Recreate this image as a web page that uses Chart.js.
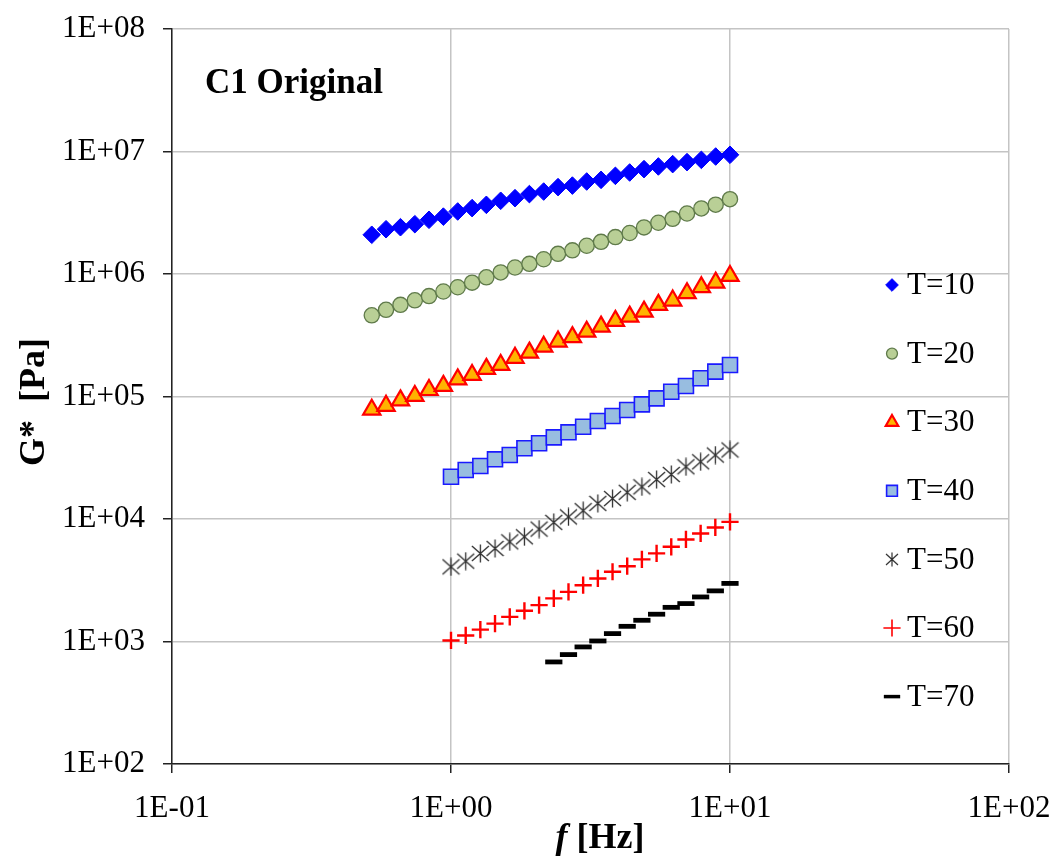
<!DOCTYPE html>
<html>
<head>
<meta charset="utf-8">
<script src="https://cdn.jsdelivr.net/npm/chart.js@4.4.1/dist/chart.umd.min.js"></script>
<style>
  html, body { margin: 0; padding: 0; background: #ffffff; }
  #wrap { width: 1053px; height: 859px; position: relative; }
</style>
</head>
<body>
<div id="wrap"><canvas id="c" width="1053" height="859"></canvas></div>
<script>
// Frequency grids [Hz]
const freqWide = [0.520, 0.585, 0.659, 0.742, 0.834, 0.939, 1.057, 1.190, 1.339, 1.507,
                  1.696, 1.910, 2.149, 2.419, 2.723, 3.065, 3.450, 3.883, 4.370, 4.918,
                  5.536, 6.231, 7.014, 7.894, 8.885, 10.00];
const freqNarrow = [1.000, 1.129, 1.274, 1.438, 1.624, 1.833, 2.069, 2.336, 2.637, 2.976,
                    3.360, 3.793, 4.281, 4.833, 5.456, 6.158, 6.952, 7.848, 8.859, 10.00];
const freqT70 = [2.336, 2.637, 2.976, 3.360, 3.793, 4.281, 4.833, 5.456, 6.158, 6.952,
                 7.848, 8.859, 10.00];

// Complex modulus G* [Pa] per test temperature
const gT10 = [2.09e6, 2.32e6, 2.41e6, 2.55e6, 2.77e6, 2.94e6, 3.24e6, 3.45e6, 3.67e6, 3.96e6,
              4.16e6, 4.49e6, 4.71e6, 5.12e6, 5.27e6, 5.69e6, 5.87e6, 6.33e6, 6.74e6, 7.18e6,
              7.55e6, 7.89e6, 8.19e6, 8.55e6, 9.10e6, 9.40e6];
const gT20 = [4.60e5, 5.10e5, 5.60e5, 6.10e5, 6.60e5, 7.20e5, 7.80e5, 8.50e5, 9.40e5, 1.03e6,
              1.13e6, 1.21e6, 1.32e6, 1.46e6, 1.56e6, 1.70e6, 1.83e6, 2.00e6, 2.16e6, 2.40e6,
              2.62e6, 2.82e6, 3.12e6, 3.43e6, 3.68e6, 4.08e6];
const gT30 = [7.80e4, 8.40e4, 9.30e4, 1.01e5, 1.13e5, 1.22e5, 1.38e5, 1.50e5, 1.68e5, 1.81e5,
              2.07e5, 2.28e5, 2.55e5, 2.81e5, 3.05e5, 3.38e5, 3.72e5, 4.14e5, 4.49e5, 4.93e5,
              5.60e5, 6.07e5, 6.97e5, 7.80e5, 8.51e5, 9.64e5];
const gT40 = [2.21e4, 2.51e4, 2.71e4, 3.07e4, 3.33e4, 3.78e4, 4.15e4, 4.64e4, 5.10e4, 5.66e4,
              6.31e4, 6.93e4, 7.76e4, 8.63e4, 9.66e4, 1.094e5, 1.219e5, 1.409e5, 1.595e5, 1.81e5];
const gT50 = [4.07e3, 4.53e3, 5.23e3, 5.75e3, 6.51e3, 7.16e3, 8.27e3, 9.38e3, 1.04e4, 1.17e4,
              1.34e4, 1.47e4, 1.65e4, 1.83e4, 2.10e4, 2.31e4, 2.67e4, 2.93e4, 3.33e4, 3.66e4];
const gT60 = [1.02e3, 1.12e3, 1.25e3, 1.40e3, 1.59e3, 1.78e3, 1.98e3, 2.25e3, 2.54e3, 2.88e3,
              3.27e3, 3.71e3, 4.12e3, 4.68e3, 5.24e3, 5.93e3, 6.81e3, 7.62e3, 8.53e3, 9.48e3];
const gT70 = [681, 782, 903, 1010, 1160, 1330, 1490, 1670, 1900, 2040, 2310, 2590, 2980];

const seriesNames = ['T=10', 'T=20', 'T=30', 'T=40', 'T=50', 'T=60', 'T=70'];

// Axis ticks
const xTickValues = [0.1, 1, 10, 100];
const xTickLabels = ['1E-01', '1E+00', '1E+01', '1E+02'];
const yTickValues = [1e2, 1e3, 1e4, 1e5, 1e6, 1e7, 1e8];
const yTickLabels = ['1E+02', '1E+03', '1E+04', '1E+05', '1E+06', '1E+07', '1E+08'];

const chartTitle = 'C1 Original';
const yTitle = 'G*  [Pa]';
const xTitleVar = 'f';
const xTitleUnit = ' [Hz]';

const SERIF = "'Liberation Serif', 'Times New Roman', serif";

// Six-armed asterisk marker (X plus vertical stroke)
function makeAsterisk(w, h, color, lw) {
  const cv = document.createElement('canvas');
  cv.width = w; cv.height = h;
  const g = cv.getContext('2d');
  g.strokeStyle = color;
  g.lineWidth = lw;
  g.beginPath();
  g.moveTo(w / 2, 0.5); g.lineTo(w / 2, h - 0.5);
  g.moveTo(1, 2); g.lineTo(w - 1, h - 2);
  g.moveTo(w - 1, 2); g.lineTo(1, h - 2);
  g.stroke();
  return cv;
}
const asteriskMark = makeAsterisk(19, 19, '#2e2e2e', 1.3);
const asteriskLegend = makeAsterisk(14, 15, '#2e2e2e', 1.2);

function pts(xs, ys) { return ys.map((y, i) => ({ x: xs[i], y: y })); }

const datasets = [
  { label: seriesNames[0], data: pts(freqWide, gT10), pointStyle: 'rectRot', pointRadius: 8.8,
    backgroundColor: '#0000ff', borderColor: '#0000ff', borderWidth: 1 },
  { label: seriesNames[1], data: pts(freqWide, gT20), pointStyle: 'circle', pointRadius: 7.6,
    backgroundColor: '#b9cf96', borderColor: '#5f7a4a', borderWidth: 1.3 },
  { label: seriesNames[2], data: pts(freqWide, gT30), pointStyle: 'triangle', pointRadius: 10,
    backgroundColor: '#ffb300', borderColor: '#ff0000', borderWidth: 2.2 },
  { label: seriesNames[3], data: pts(freqNarrow, gT40), pointStyle: 'rect', pointRadius: 10.6,
    backgroundColor: '#98bde0', borderColor: '#1a1aff', borderWidth: 1.6 },
  { label: seriesNames[4], data: pts(freqNarrow, gT50), pointStyle: asteriskMark, pointRadius: 9,
    backgroundColor: '#2e2e2e', borderColor: '#2e2e2e', borderWidth: 1 },
  { label: seriesNames[5], data: pts(freqNarrow, gT60), pointStyle: 'crossRot', pointRadius: 8.6,
    backgroundColor: '#ff0000', borderColor: '#ff0000', borderWidth: 2.4, rotation: 45 },
  { label: seriesNames[6], data: pts(freqT70, gT70), pointStyle: 'line', pointRadius: 8.6,
    backgroundColor: '#000000', borderColor: '#000000', borderWidth: 4.8 }
];
datasets.forEach(d => {
  d.pointBackgroundColor = d.backgroundColor;
  d.pointBorderColor = d.borderColor;
  d.pointBorderWidth = d.borderWidth;
  d.pointHoverRadius = d.pointRadius;
  d.pointRotation = d.rotation || 0;
  d.showLine = false;
});

// Titles and in-plot legend
const decorations = {
  id: 'decorations',
  afterDraw(chart) {
    const ctx = chart.ctx;
    ctx.save();
    ctx.fillStyle = '#000';

    // chart title inside plot area
    ctx.font = 'bold 35px ' + SERIF;
    ctx.textAlign = 'left';
    ctx.textBaseline = 'alphabetic';
    ctx.fillText(chartTitle, 205, 93);

    // y axis title
    ctx.save();
    ctx.translate(44, 402);
    ctx.rotate(-Math.PI / 2);
    ctx.font = 'bold 36px ' + SERIF;
    ctx.textAlign = 'center';
    ctx.fillText(yTitle, 0, 0);
    ctx.restore();

    // x axis title: italic variable + bold unit
    ctx.font = 'italic bold 36px ' + SERIF;
    const wVar = ctx.measureText(xTitleVar).width;
    ctx.font = 'bold 36px ' + SERIF;
    const wUnit = ctx.measureText(xTitleUnit).width;
    const x0 = 600 - (wVar + wUnit) / 2;
    ctx.font = 'italic bold 36px ' + SERIF;
    ctx.fillText(xTitleVar, x0, 848);
    ctx.font = 'bold 36px ' + SERIF;
    ctx.fillText(xTitleUnit, x0 + wVar, 848);

    // legend
    const lx = 892, tx = 907, y0 = 285, dy = 68.6;
    chart.data.datasets.forEach((ds, i) => {
      const y = y0 + i * dy;
      ctx.save();
      ctx.fillStyle = ds.backgroundColor;
      ctx.strokeStyle = ds.borderColor;
      ctx.lineWidth = Math.min(ds.borderWidth, 3.5);
      let style = ds.pointStyle;
      let r = ds.pointRadius * 0.72;
      if (style === asteriskMark) style = asteriskLegend;
      if (ds.pointStyle === 'crossRot') { r = ds.pointRadius; ctx.lineWidth = 1.6; }
      if (ds.pointStyle === 'line') r = ds.pointRadius * 0.95;
      Chart.helpers.drawPoint(ctx, { pointStyle: style, radius: r, rotation: ds.rotation || 0,
        borderWidth: ds.borderWidth }, lx, y);
      ctx.restore();
      ctx.font = '31px ' + SERIF;
      ctx.textAlign = 'left';
      ctx.textBaseline = 'middle';
      ctx.fillStyle = '#000';
      ctx.fillText(ds.label, tx, y + 1);
    });
    ctx.restore();
  }
};

const whiteBg = {
  id: 'whiteBg',
  beforeDraw(chart) {
    const ctx = chart.ctx;
    ctx.save();
    ctx.fillStyle = '#ffffff';
    ctx.fillRect(0, 0, chart.width, chart.height);
    ctx.restore();
  }
};

const gridStyle = {
  color: '#c4c4c4',
  lineWidth: 1.5,
  tickColor: '#222',
  tickWidth: 1.5,
  tickLength: 9,
  drawTicks: true
};

new Chart(document.getElementById('c'), {
  type: 'scatter',
  data: { datasets: datasets },
  options: {
    responsive: false,
    animation: false,
    devicePixelRatio: 1,
    layout: { padding: { left: 0, top: 29, right: 44, bottom: 0 } },
    plugins: { legend: { display: false }, tooltip: { enabled: false }, title: { display: false } },
    scales: {
      x: {
        type: 'logarithmic',
        min: 0.1, max: 100,
        grid: gridStyle,
        border: { display: true, color: '#222', width: 1.5 },
        ticks: {
          autoSkip: false, maxRotation: 0, padding: 17, color: '#000',
          font: { family: SERIF, size: 31 },
          callback: (v, i) => xTickLabels[i]
        },
        afterBuildTicks: s => { s.ticks = xTickValues.map(v => ({ value: v })); },
        afterFit: s => { s.height = 95; s.paddingLeft = 0; s.paddingRight = 0; }
      },
      y: {
        type: 'logarithmic',
        min: 1e2, max: 1e8,
        grid: gridStyle,
        border: { display: true, color: '#222', width: 1.5 },
        ticks: {
          autoSkip: false, padding: 18, color: '#000',
          font: { family: SERIF, size: 31 },
          callback: (v, i) => yTickLabels[i]
        },
        afterBuildTicks: s => { s.ticks = yTickValues.map(v => ({ value: v })); },
        afterFit: s => { s.width = 172; s.paddingTop = 0; s.paddingBottom = 0; }
      }
    }
  },
  plugins: [whiteBg, decorations]
});
</script>
</body>
</html>
